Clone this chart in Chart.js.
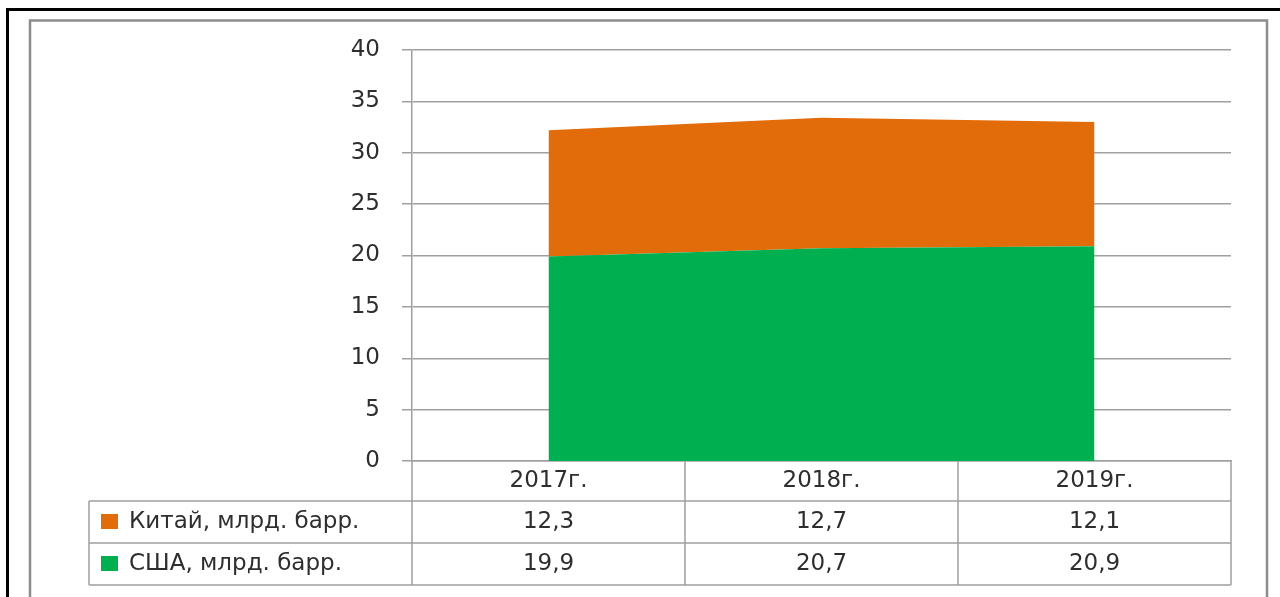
<!DOCTYPE html>
<html>
<head>
<meta charset="utf-8">
<script src="https://cdn.jsdelivr.net/npm/chart.js@4/dist/chart.umd.min.js"></script>
<style>
html, body { margin: 0; padding: 0; background: #fff; }
canvas { display: block; }
</style>
</head>
<body>
<canvas id="oilChart" width="1280" height="597"></canvas>
<script>
// данные
var years = ['2017г.', '2018г.', '2019г.'];
var usaValues = [19.9, 20.7, 20.9];
var chinaValues = [12.3, 12.7, 12.1];
var usaName = 'США, млрд. барр.';
var chinaName = 'Китай, млрд. барр.';
var usaColor = '#00B050';
var chinaColor = '#E36C0A';

var fontFamily = 'DejaVu Sans';
var fontSize = 23;
var textColor = '#2e2e2e';
var lineColor = '#a0a0a0';

function fmt(v) {
	return v.toFixed(1).replace('.', ',');
}

// рамки и таблица данных под графиком
var tablePlugin = {
	id: 'dataTable',
	beforeDraw: function(chart) {
		var ctx = chart.ctx;
		ctx.save();
		ctx.fillStyle = '#fff';
		ctx.fillRect(0, 0, chart.width, chart.height);
		// внешняя черная рамка
		ctx.strokeStyle = '#000';
		ctx.lineWidth = 3;
		ctx.beginPath();
		ctx.moveTo(7.5, 700);
		ctx.lineTo(7.5, 9.5);
		ctx.lineTo(1300, 9.5);
		ctx.stroke();
		// внутренняя серая рамка
		ctx.strokeStyle = '#8c8c8c';
		ctx.lineWidth = 2.5;
		ctx.beginPath();
		ctx.moveTo(30, 700);
		ctx.lineTo(30, 20.5);
		ctx.lineTo(1267, 20.5);
		ctx.lineTo(1267, 700);
		ctx.stroke();
		ctx.restore();
	},
	afterDraw: function(chart) {
		var ctx = chart.ctx;
		var x = chart.scales.x;
		var area = chart.chartArea;
		var step = x.getPixelForValue(1) - x.getPixelForValue(0);
		var left = x.getPixelForValue(0) - step / 2;
		var right = x.getPixelForValue(years.length - 1) + step / 2;
		var headerBottom = 501;
		var rowH = 42;
		var legendLeft = 89;
		var rows = [
			{ name: chinaName, color: chinaColor, values: chinaValues },
			{ name: usaName, color: usaColor, values: usaValues }
		];
		var bottom = headerBottom + rowH * rows.length;

		ctx.save();
		ctx.strokeStyle = lineColor;
		ctx.lineWidth = 1.5;
		ctx.beginPath();
		// горизонтальные линии
		for (var r = 0; r <= rows.length; r++) {
			var yy = headerBottom + r * rowH;
			ctx.moveTo(legendLeft, yy);
			ctx.lineTo(right, yy);
		}
		// вертикальные линии
		ctx.moveTo(legendLeft, headerBottom);
		ctx.lineTo(legendLeft, bottom);
		for (var i = 0; i <= years.length; i++) {
			var xx = left + i * step;
			ctx.moveTo(xx, area.bottom);
			ctx.lineTo(xx, bottom);
		}
		ctx.stroke();

		ctx.font = fontSize + 'px "' + fontFamily + '"';
		ctx.textBaseline = 'middle';
		rows.forEach(function(row, r) {
			var cy = headerBottom + r * rowH + rowH / 2;
			ctx.fillStyle = row.color;
			ctx.fillRect(101, cy - 8, 17, 15);
			ctx.fillStyle = textColor;
			ctx.textAlign = 'left';
			ctx.fillText(row.name, 129, cy);
			ctx.textAlign = 'center';
			row.values.forEach(function(v, i) {
				ctx.fillText(fmt(v), x.getPixelForValue(i), cy);
			});
		});
		ctx.restore();
	}
};

var chartArea = document.getElementById('oilChart').getContext('2d');
var myChart = new Chart(chartArea, {
	type: 'line',
	data: {
		labels: years,
		datasets: [{
			label: usaName,
			data: usaValues,
			backgroundColor: usaColor,
			borderColor: 'rgba(0,0,0,0)',
			borderWidth: 0,
			pointRadius: 0,
			tension: 0,
			fill: 'origin'
		}, {
			label: chinaName,
			data: chinaValues,
			backgroundColor: chinaColor,
			borderColor: 'rgba(0,0,0,0)',
			borderWidth: 0,
			pointRadius: 0,
			tension: 0,
			fill: '-1'
		}]
	},
	options: {
		responsive: false,
		animation: false,
		devicePixelRatio: 1,
		layout: {
			padding: { left: 0, top: 50, right: 49, bottom: 12 }
		},
		plugins: {
			legend: { display: false },
			tooltip: { enabled: false }
		},
		scales: {
			x: {
				offset: true,
				grid: { display: false, drawTicks: false },
				border: { display: true, color: lineColor, width: 1.5 },
				ticks: {
					padding: 6,
					color: textColor,
					font: { family: fontFamily, size: fontSize }
				},
				afterFit: function(s) { s.height = 124; }
			},
			y: {
				stacked: true,
				min: 0,
				max: 40,
				ticks: {
					stepSize: 5,
					padding: 22,
					color: textColor,
					font: { family: fontFamily, size: fontSize }
				},
				grid: {
					color: lineColor,
					lineWidth: 1.5,
					tickLength: 10
				},
				border: { display: true, color: lineColor, width: 1.5 },
				afterFit: function(s) { s.width = 412; }
			}
		}
	},
	plugins: [tablePlugin]
});
</script>
</body>
</html>
